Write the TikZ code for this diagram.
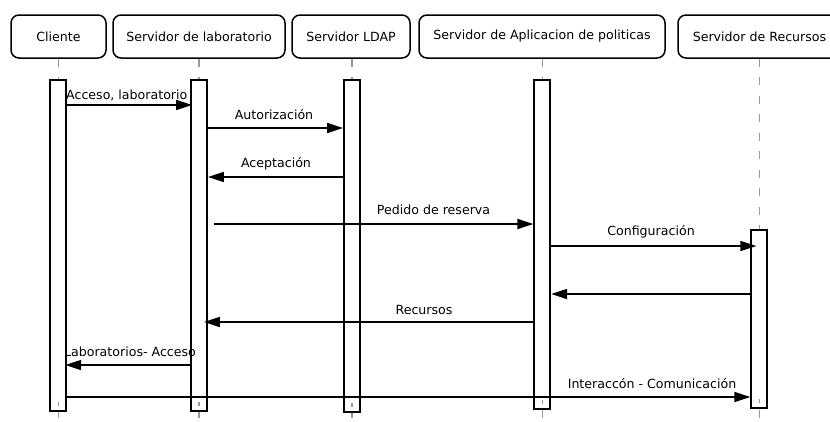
\documentclass[tikz,border=0pt]{standalone}
\usepackage{fontspec}
\setmainfont{DejaVu Sans}
\usetikzlibrary{arrows.meta}
\begin{document}
\begin{tikzpicture}[x=1pt,y=-1pt,
  font=\fontsize{12.6}{14}\selectfont,
  head/.style={draw=black, line width=1.5pt, rounded corners=8pt, minimum height=43pt, inner sep=0pt, text=black},
  act/.style={draw=black, fill=white, line width=1.8pt, minimum width=16pt, inner sep=0pt},
  life/.style={draw=black!40, line width=1.3pt, dash pattern=on 8pt off 10.5pt},
  msg/.style={draw=black, line width=1.6pt, -{Triangle[length=16pt,width=10pt]}},
  lbl/.style={text=black, inner sep=0pt}]
\useasboundingbox (0,0) rectangle (830,421);
% headers
\node[head, minimum width=95pt]  (hcli) at (58.5,36.5) {Cliente};
\node[head, minimum width=172pt] (hlab) at (199,36.5) {Servidor de laboratorio};
\node[head, minimum width=118pt] (hldap) at (351,36.5) {Servidor LDAP};
\node[head, minimum width=246pt] (happ) at (542,36.5) {Servidor de Aplicacion de politicas};
\node[head, minimum width=163pt] (hrec) at (759.5,36.5) {Servidor de Recursos};
% lifelines
\coordinate (ecli) at (58.3,421);
\coordinate (elab) at (199,421);
\coordinate (eldap) at (352,421);
\coordinate (eapp) at (542.3,421);
\coordinate (erec) at (759.3,421);
\draw[life] (hcli.south -| ecli) -- (ecli);
\draw[life] (hlab.south -| elab) -- (elab);
\draw[life] (hldap.south -| eldap) -- (eldap);
\draw[life] (happ.south -| eapp) -- (eapp);
\draw[life] (hrec.south -| erec) -- (erec);
% activations
\node[act, minimum height=331pt] (acli) at (58.3,245.5) {};
\node[act, minimum height=331pt] (alab) at (199,245.5) {};
\node[act, minimum height=332pt] (aldap) at (352,246) {};
\node[act, minimum height=329pt] (aapp) at (542.3,244.5) {};
\node[act, minimum height=178pt] (arec) at (759.3,319) {};
% bottom ticks
\foreach \n in {cli,lab,ldap,app,rec}{
  \draw[draw=black!40, line width=1.3pt] ([yshift=6pt]a\n.south) -- ([yshift=10pt]a\n.south);
}
% messages
\draw[msg] (acli.east |- 0,105) -- ([xshift=2pt]alab.west |- 0,105);
\node[lbl, anchor=west] (l1) at (66,95) {Acceso, laboratorio};
\draw[msg] (alab.east |- 0,128) -- (aldap.west |- 0,128);
\node[lbl] (l2) at (274,115) {Autorización};
\draw[msg] (aldap.west |- 0,177) -- (alab.east |- 0,177);
\node[lbl] (l3) at (276,164) {Aceptación};
\draw[msg] ([xshift=6pt]alab.east |- 0,224) -- (aapp.west |- 0,224);
\node[lbl] (l4) at (433.5,210) {Pedido de reserva};
\draw[msg] (aapp.east |- 0,246) -- ([xshift=6pt]arec.west |- 0,246);
\node[lbl] (l5) at (651,231.5) {Configuración};
\draw[msg] (arec.west |- 0,294) -- (aapp.east |- 0,294);
\draw[msg] (aapp.west |- 0,322) -- ([xshift=-4pt]alab.east |- 0,322);
\node[lbl] (l7) at (424,310) {Recursos};
\draw[msg] (alab.west |- 0,365) -- ([xshift=-2pt]acli.east |- 0,365);
\node[lbl] (l8) at (130,352) {Laboratorios- Acceso};
\draw[msg] (acli.east |- 0,397) -- (arec.west |- 0,397);
\node[lbl] (l9) at (652,384) {Interaccón - Comunicación};
\end{tikzpicture}
\end{document}
